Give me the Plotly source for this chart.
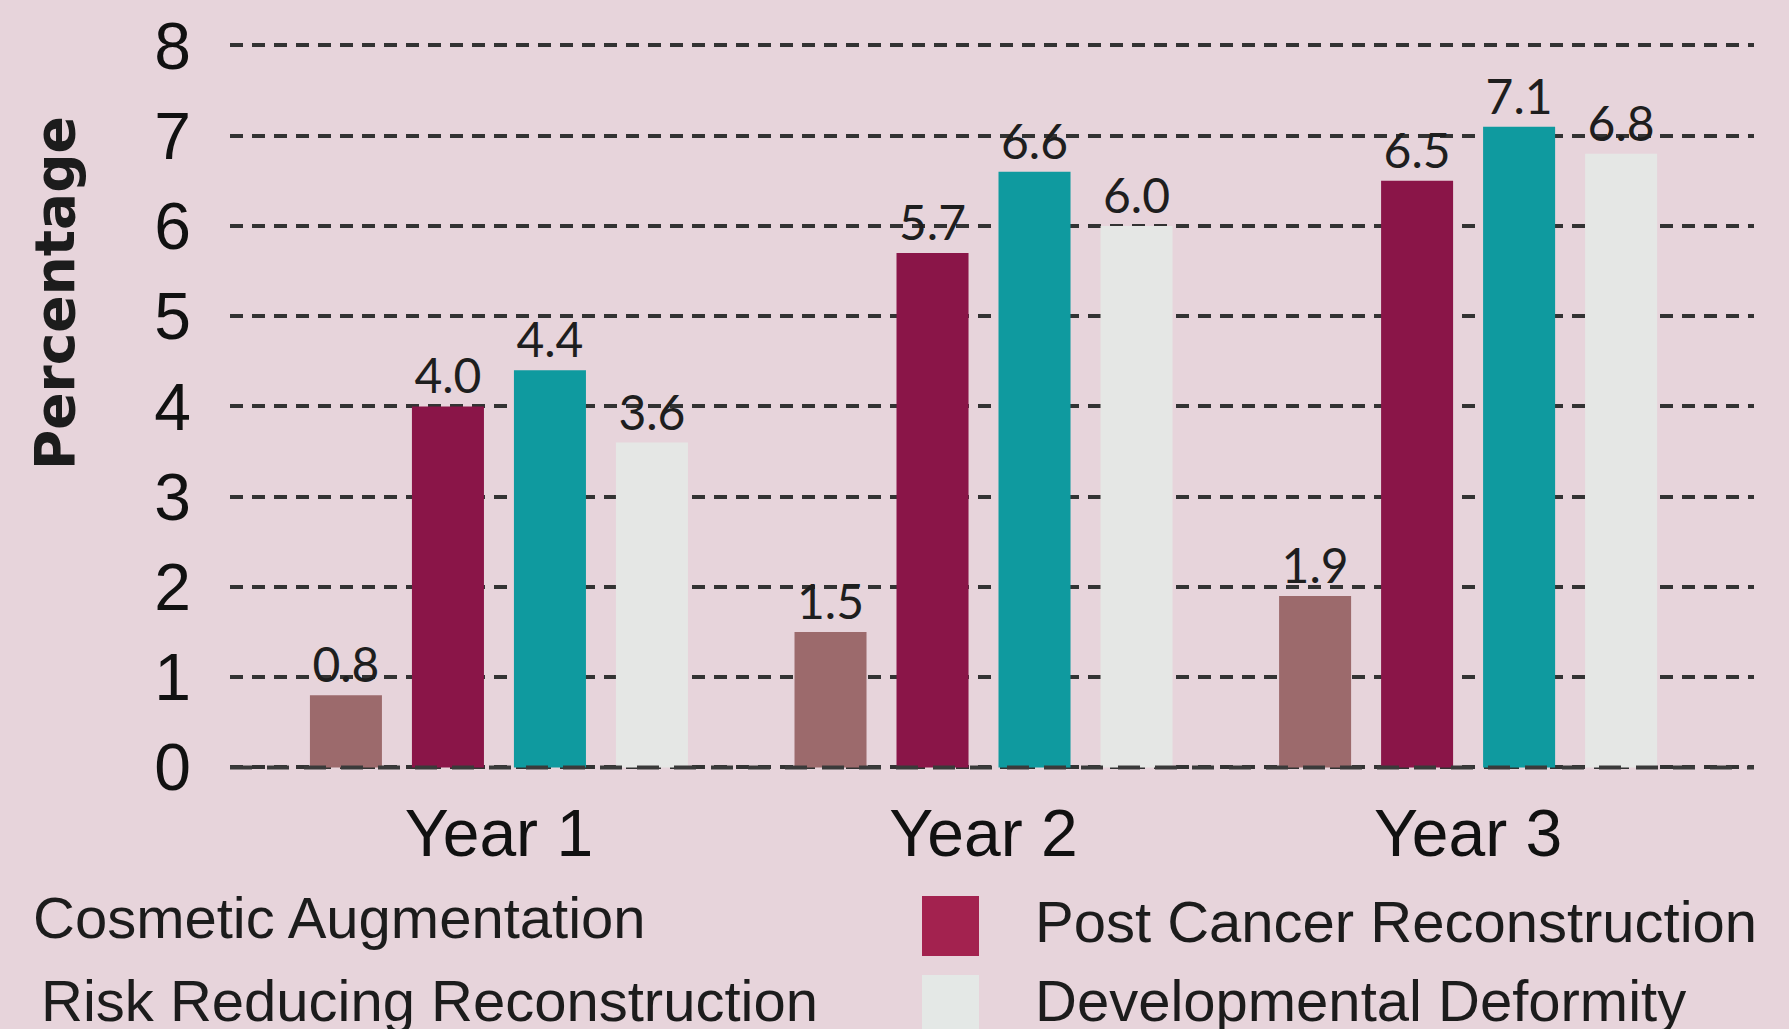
import plotly.graph_objects as go

years = ["Year 1", "Year 2", "Year 3"]
cosmetic = [0.8, 1.5, 1.9]
post_cancer = [4.0, 5.7, 6.5]
risk_reducing = [4.4, 6.6, 7.1]
developmental = [3.6, 6.0, 6.8]

series_names = [
    "Cosmetic Augmentation",
    "Post Cancer Reconstruction",
    "Risk Reducing Reconstruction",
    "Developmental Deformity",
]
series_values = [cosmetic, post_cancer, risk_reducing, developmental]
bar_colors = ["#9c6a6c", "#8a1548", "#0f9a9f", "#e5e7e5"]
y_ticks = [0, 1, 2, 3, 4, 5, 6, 7, 8]

W, H = 1789, 1029
L, R, T, B = 230, 35, 40, 258
BG = "#e7d4db"


def px(x):
    # pixel -> paper x
    return (x - L) / (W - L - R)


def py(y):
    # pixel -> paper y
    return (H - B - y) / (H - T - B)


fig = go.Figure()
for name, vals, col in zip(series_names, series_values, bar_colors):
    fig.add_trace(
        go.Bar(
            x=years,
            y=vals,
            name=name,
            marker=dict(color=col, line_width=0),
            texttemplate="%{y:.1f}",
            textposition="outside",
            textfont=dict(family="Lato", size=48, color="#1e1e1e"),
            cliponaxis=False,
        )
    )

# legend drawn as text, the photo crop hides two of the swatches
legend_items = [
    (series_names[0], 31, 917),
    (series_names[2], 39, 1000),
    (series_names[1], 1033, 921),
    (series_names[3], 1033, 1000),
]
annotations = []
for txt, x, y in legend_items:
    annotations.append(
        dict(
            text=txt, x=px(x), y=py(y), xref="paper", yref="paper",
            xanchor="left", yanchor="middle", showarrow=False,
            font=dict(family="Liberation Sans", size=58, color="#1c1c1c"),
        )
    )
annotations.append(
    dict(
        text="<b>Percentage</b>", x=px(55), y=py(293), xref="paper", yref="paper",
        xanchor="center", yanchor="middle", showarrow=False, textangle=-90,
        font=dict(family="DejaVu Sans", size=55, color="#1c1c1c"),
    )
)

shapes = [
    dict(type="rect", xref="paper", yref="paper",
         x0=px(922), x1=px(979), y0=py(896), y1=py(956),
         fillcolor="#a3224f", line_width=0),
    dict(type="rect", xref="paper", yref="paper",
         x0=px(922), x1=px(979), y0=py(975), y1=py(1040),
         fillcolor="#e4e8e6", line_width=0),
    # hide the regular grid dash at 0, then draw the longer zero dash on top
    dict(type="line", xref="paper", yref="y", x0=0, x1=1, y0=0, y1=0,
         line=dict(color=BG, width=6), layer="between"),
    dict(type="line", xref="paper", yref="y", x0=0, x1=1, y0=0, y1=0,
         line=dict(color="#3a3a3a", width=4, dash="22px,15px"), layer="above"),
]

fig.update_layout(
    width=W,
    height=H,
    margin=dict(l=L, r=R, t=T, b=B, autoexpand=False),
    paper_bgcolor=BG,
    plot_bgcolor=BG,
    barmode="group",
    bargap=0.158,
    bargroupgap=0.294,
    showlegend=False,
    annotations=annotations,
    shapes=shapes,
)
fig.update_xaxes(
    range=[-0.555, 2.59],
    showgrid=False,
    zeroline=False,
    showline=False,
    ticks="",
    ticklabelstandoff=18,
    tickfont=dict(family="Liberation Sans", size=66, color="#111111"),
)
fig.update_yaxes(
    range=[-0.04, 8.06],
    tickvals=y_ticks,
    showgrid=True,
    gridcolor="#333333",
    gridwidth=4,
    griddash="13px,9px",
    zeroline=False,
    showline=False,
    ticks="",
    ticklabelstandoff=38,
    tickfont=dict(family="Liberation Sans", size=66, color="#111111"),
)

fig.write_html(
    "out.html",
    config={"displayModeBar": False},
    post_script="document.body.style.margin='0';",
)
